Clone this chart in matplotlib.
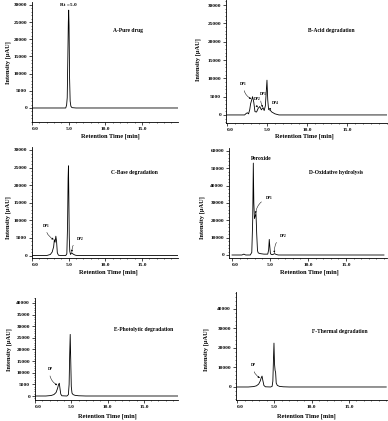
import matplotlib
matplotlib.use('Agg')
import matplotlib.pyplot as plt
from matplotlib.ticker import MultipleLocator

plt.rcParams['font.family'] = ['Liberation Serif', 'DejaVu Serif']
plt.rcParams['font.weight'] = 'bold'

# ---------------- data ----------------
a_time = [0, 2.0, 4.0, 4.6, 4.72, 4.8, 4.88, 4.95, 5.0, 5.05, 5.12, 5.2, 5.3, 5.45, 6.0, 10.0, 15.0, 20.0]
a_int = [0, 0, 0, 0, 900, 3000, 14000, 25000, 28500, 24000, 9000, 2000, 500, 100, 0, 0, 0, 0]

b_time = [0, 2.2, 2.4, 2.55, 2.7, 2.85, 2.95, 3.1, 3.2, 3.35, 3.5, 3.7, 3.9, 4.1, 4.3, 4.5, 4.65,
          4.8, 4.9, 5.0, 5.1, 5.2, 5.4, 5.6, 6.0, 6.5, 20]
b_int = [0, 0, 400, 600, 300, 1500, 3000, 4200, 5000, 3500, 900, 800, 1800, 2300, 1400, 2000, 1200,
         2500, 6000, 9500, 4000, 1500, 1300, 800, 300, 0, 0]

c_time = [0, 2.0, 2.5, 2.75, 2.95, 3.05, 3.15, 3.25, 3.35, 3.45, 3.6, 3.9, 4.6, 4.75, 4.85, 4.92,
          4.97, 5.02, 5.08, 5.15, 5.25, 5.4, 5.55, 5.7, 5.9, 6.2, 20]
c_int = [0, 0, 300, 1000, 2500, 4500, 3800, 5500, 4000, 800, 100, 0, 0, 500, 9000, 22000,
         25500, 17000, 5000, 1200, 300, 800, 500, 300, 100, 0, 0]

d_time = [0, 1.3, 1.55, 1.8, 2.4, 2.6, 2.72, 2.8, 2.87, 2.95, 3.05, 3.15, 3.25, 3.35, 3.45, 3.7,
          4.2, 4.7, 4.82, 4.9, 4.97, 5.05, 5.15, 5.35, 5.6, 5.8, 6.1, 20]
d_int = [0, 0, 500, 0, 0, 1500, 20000, 53000, 30000, 21000, 22500, 24000, 12000, 2500, 1200, 800,
         500, 500, 3000, 9000, 5000, 1000, 300, 200, 800, 300, 0, 0]

e_time = [0, 1.5, 2.2, 2.6, 2.9, 3.1, 3.25, 3.35, 3.45, 3.55, 3.7, 4.4, 4.6, 4.7, 4.78, 4.85,
          4.92, 5.0, 5.1, 5.25, 5.5, 6.0, 7.0, 20]
e_int = [0, 0, 200, 600, 1500, 3200, 5000, 5500, 3000, 800, 100, 0, 600, 5000, 18000, 26500,
         16000, 4000, 1200, 600, 300, 100, 0, 0]

f_time = [0, 1.5, 2.2, 2.6, 2.9, 3.1, 3.25, 3.35, 3.45, 3.6, 3.8, 4.5, 4.7, 4.8, 4.88, 4.95,
          5.02, 5.1, 5.17, 5.25, 5.4, 5.7, 6.2, 7.0, 20]
f_int = [0, 0, 200, 600, 1500, 3000, 4800, 5600, 3500, 800, 100, 0, 300, 3000, 14000, 22500,
         12000, 8500, 7500, 2000, 800, 300, 100, 0, 0]

x_ticks = [0, 5, 10, 15]
x_tick_labels = ['0.0', '5.0', '10.0', '15.0']
titles = ['A-Pure drug', 'B-Acid degradation', 'C-Base degradation',
          'D-Oxidative hydrolysis', 'E-Photolytic degradation', 'F-Thermal degradation']
x_label = 'Retention Time [min]'
y_label = 'Intensity [\u00b5AU]'

# ---------------- layout (pixels) ----------------
W, H = 388, 421
fig = plt.figure(figsize=(W / 100, H / 100), dpi=100)

panels = [
    # box (l, r, t, b), xlim, ylim, ymax tick, ystep, title pos, ylabel pos, xlabel pos
    dict(t=a_time, y=a_int, box=(32, 178, 2, 122), xlim=(0.1, 19.9), ylim=(-4080, 30870),
         ytop=30000, ystep=5000, tpos=(13.1, 22700), ylp=(8, 63), xlp=(110, 136)),
    dict(t=b_time, y=b_int, box=(226, 387, 0, 123), xlim=(-0.12, 20.0), ylim=(-2200, 31400),
         ytop=30000, ystep=5000, tpos=(13.1, 23200), ylp=(198, 60), xlp=(304, 136)),
    dict(t=c_time, y=c_int, box=(32, 178, 147, 258), xlim=(0.1, 19.9), ylim=(-700, 30850),
         ytop=30000, ystep=5000, tpos=(14.0, 23500), ylp=(8, 218), xlp=(108, 272)),
    dict(t=d_time, y=d_int, box=(229, 387, 148, 258), xlim=(-0.4, 20.4), ylim=(-1730, 61700),
         ytop=60000, ystep=10000, tpos=(13.7, 47300), ylp=(202, 218), xlp=(309, 272)),
    dict(t=e_time, y=e_int, box=(35, 178, 298, 400), xlim=(0.14, 19.7), ylim=(-1720, 42140),
         ytop=40000, ystep=5000, tpos=(14.9, 28800), ylp=(9, 350), xlp=(107, 416)),
    dict(t=f_time, y=f_int, box=(236, 387, 292, 400), xlim=(-0.14, 20.1), ylim=(-6670, 48700),
         ytop=40000, ystep=10000, tpos=(13.8, 28400), ylp=(206, 350), xlp=(306, 416)),
]

annotations = [
    [],
    [('DP1', 2.1, 8500, 3.1, 4300), ('DP2', 3.75, 4400, 3.9, 1900),
     ('DP3', 4.5, 5700, 4.55, 2000), ('DP4', 6.0, 3300, 5.4, 1300)],
    [('DP1', 1.9, 8500, 3.05, 4500), ('DP2', 6.6, 4800, 5.45, 800)],
    [('DP1', 4.9, 32900, 3.1, 23500), ('DP2', 6.8, 11000, 5.6, 800)],
    [('DP', 2.05, 11600, 3.15, 4500)],
    [('DP', 2.2, 11300, 3.15, 4500)],
]

axes = []
for i, p in enumerate(panels):
    l, r, t, b = p['box']
    ax = fig.add_axes([l / W, 1 - b / H, (r - l) / W, (b - t) / H])
    axes.append(ax)
    ax.plot(p['t'], p['y'], color='black', lw=0.6)
    ax.set_xlim(*p['xlim'])
    ax.set_ylim(*p['ylim'])
    for s in ('top', 'right'):
        ax.spines[s].set_visible(False)
    for s in ('left', 'bottom'):
        ax.spines[s].set_linewidth(0.6)
    ax.set_xticks(x_ticks)
    ax.set_xticklabels(x_tick_labels)
    yt = list(range(0, p['ytop'] + 1, p['ystep']))
    ax.set_yticks(yt)
    ax.set_yticklabels([str(v) for v in yt])
    ax.yaxis.set_minor_locator(MultipleLocator(p['ystep'] / 5))
    ax.xaxis.set_minor_locator(MultipleLocator(1))
    ax.tick_params(axis='both', which='major', labelsize=3.8, length=2, width=0.5, pad=1.5)
    ax.tick_params(axis='both', which='minor', length=1, width=0.4)
    ax.get_xticklabels()[0].set_ha('left')
    ax.text(p['tpos'][0], p['tpos'][1], titles[i], fontsize=4.0, ha='center', va='center')
    fig.text(p['ylp'][0] / W, 1 - p['ylp'][1] / H, y_label, rotation=90, fontsize=4.6,
             ha='center', va='center')
    fig.text(p['xlp'][0] / W, 1 - p['xlp'][1] / H, x_label, fontsize=4.6,
             ha='center', va='center')
    for (txt, tx, ty, axx, ayy) in annotations[i]:
        ax.annotate(txt, xy=(axx, ayy), xytext=(tx, ty), fontsize=2.7, ha='center', va='center',
                    arrowprops=dict(arrowstyle='-|>', connectionstyle='arc3,rad=0.35',
                                    lw=0.35, color='black', mutation_scale=2.5,
                                    shrinkA=1.5, shrinkB=0.5))

axes[0].text(5.0, 30000, 'Rt =5.0', fontsize=3.8, ha='center', va='center')
axes[3].text(3.8, 55400, 'Peroxide', fontsize=4.0, ha='center', va='center')

fig.savefig('out.png', dpi=100)
